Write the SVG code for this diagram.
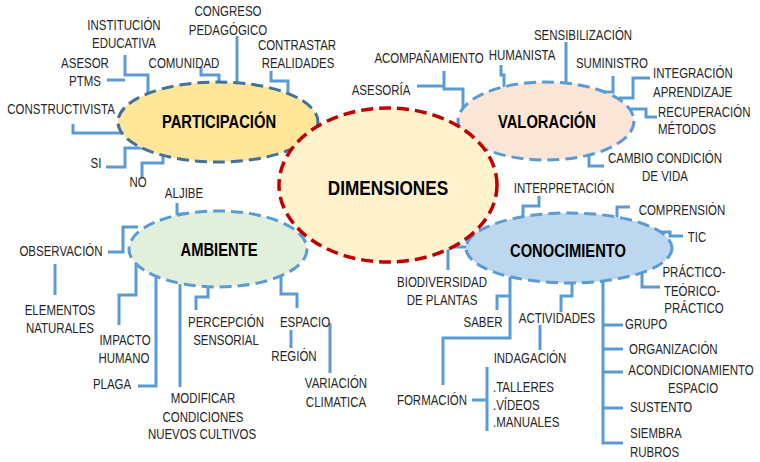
<svg xmlns="http://www.w3.org/2000/svg" width="760" height="462" viewBox="0 0 760 462">
<style>
.t{font-family:"Liberation Sans",Arial,sans-serif;font-size:14px;fill:#262626;transform-box:fill-box;transform-origin:left center;transform:scaleX(0.82)}
.m{text-anchor:middle;transform-origin:center}
.b{font-family:"Liberation Sans",Arial,sans-serif;font-weight:bold;font-size:18px;fill:#000;text-anchor:middle;transform-box:fill-box;transform-origin:center;transform:scaleX(0.82)}
.ln{fill:none;stroke:#5B9BD5;stroke-width:3;stroke-linejoin:miter}
.e{stroke-width:3;stroke-dasharray:12 6}
</style>
<rect width="760" height="462" fill="#fff"/>
<g id="connectors">
<path class="ln" d="M125,55 V75 H148 V93"/>
<path class="ln" d="M107,80 H125"/>
<path class="ln" d="M73,124 V133 H123"/>
<path class="ln" d="M106,167 H125 V148 H142"/>
<path class="ln" d="M142,177 V163 H163 V154"/>
<path class="ln" d="M201,67 V75 H219 V83"/>
<path class="ln" d="M237,36 V83"/>
<path class="ln" d="M271,71 V81 H288 V94"/>
<path class="ln" d="M444,71 V89 H463 V108"/>
<path class="ln" d="M417,86 H444"/>
<path class="ln" d="M501,65 V75 H504 V87"/>
<path class="ln" d="M566,42 V83"/>
<path class="ln" d="M613,76 V92 H602"/>
<path class="ln" d="M650,78 H633 V98 H619"/>
<path class="ln" d="M657,117 H646 V109 H630"/>
<path class="ln" d="M604,166 H589 V155"/>
<path class="ln" d="M177,203 V214 H188"/>
<path class="ln" d="M108,252 H123 V227 H138"/>
<path class="ln" d="M55,264 V295"/>
<path class="ln" d="M136,265 V295 H119 V325"/>
<path class="ln" d="M138,386 H156 V277"/>
<path class="ln" d="M180,387 V284"/>
<path class="ln" d="M208,285 V297 H196 V310"/>
<path class="ln" d="M281,276 V294 H297 V308"/>
<path class="ln" d="M291,330 V348"/>
<path class="ln" d="M330,323 V373"/>
<path class="ln" d="M539,196 V206 H523 V217"/>
<path class="ln" d="M630,207 H617 V219"/>
<path class="ln" d="M683,236 H670 V232 H660"/>
<path class="ln" d="M660,287 H642 V273"/>
<path class="ln" d="M448,270 V247 H467"/>
<path class="ln" d="M497,310 V296 H510"/>
<path class="ln" d="M510,277 V338 H443 V385"/>
<path class="ln" d="M572,283 V296 H561 V312"/>
<path class="ln" d="M540,325 V350"/>
<path class="ln" d="M472,400 H487 M487,367 V431"/>
<path class="ln" d="M603,281 V443 H623 M603,325 H623 M603,349 H623 M603,372 H623 M603,408 H623"/>
</g>
<g id="participacion">
<ellipse class="e" cx="218" cy="122" rx="100" ry="40" fill="#FFE699" stroke="#41719C"/>
<text class="b" x="219" y="128">PARTICIPACIÓN</text>
</g>
<g id="valoracion">
<ellipse class="e" cx="546" cy="121" rx="88" ry="39" fill="#FBE5D6" stroke="#5B9BD5"/>
<text class="b" x="547" y="128">VALORACIÓN</text>
</g>
<g id="ambiente">
<ellipse class="e" cx="218" cy="249" rx="89" ry="38" fill="#E2EFDA" stroke="#5B9BD5"/>
<text class="b" x="219" y="256">AMBIENTE</text>
</g>
<g id="conocimiento">
<ellipse class="e" cx="569" cy="248" rx="103" ry="35" fill="#BDD7EE" stroke="#5B9BD5"/>
<text class="b" x="568" y="257">CONOCIMIENTO</text>
</g>
<g id="dimensiones">
<ellipse cx="388" cy="185" rx="109" ry="77" fill="#FFF2CC" stroke="#C00000" stroke-width="3.5" stroke-dasharray="12 6"/>
<text class="b" x="388" y="195" style="font-size:21px">DIMENSIONES</text>
</g>
<g id="labels-participacion">
<text class="t m" x="124" y="30">INSTITUCIÓN</text>
<text class="t m" x="124" y="48">EDUCATIVA</text>
<text class="t m" x="85" y="68">ASESOR</text>
<text class="t m" x="85" y="86">PTMS</text>
<text class="t m" x="184" y="68">COMUNIDAD</text>
<text class="t m" x="228" y="16">CONGRESO</text>
<text class="t m" x="228" y="35">PEDAGÓGICO</text>
<text class="t m" x="297" y="50">CONTRASTAR</text>
<text class="t m" x="298" y="68">REALIDADES</text>
<text class="t m" x="61" y="114">CONSTRUCTIVISTA</text>
<text class="t m" x="96" y="168">SI</text>
<text class="t m" x="138" y="187">NO</text>
</g>
<g id="labels-valoracion">
<text class="t m" x="429" y="63">ACOMPAÑAMIENTO</text>
<text class="t m" x="522" y="60">HUMANISTA</text>
<text class="t m" x="583" y="40">SENSIBILIZACIÓN</text>
<text class="t m" x="612" y="68">SUMINISTRO</text>
<text class="t" x="653" y="78">INTEGRACIÓN</text>
<text class="t" x="653" y="97">APRENDIZAJE</text>
<text class="t" x="658" y="117">RECUPERACIÓN</text>
<text class="t" x="658" y="134">MÉTODOS</text>
<text class="t m" x="381" y="95">ASESORÍA</text>
<text class="t m" x="665" y="163">CAMBIO CONDICIÓN</text>
<text class="t m" x="665" y="181">DE VIDA</text>
</g>
<g id="labels-ambiente">
<text class="t m" x="184" y="198">ALJIBE</text>
<text class="t m" x="61" y="256">OBSERVACIÓN</text>
<text class="t m" x="60" y="315">ELEMENTOS</text>
<text class="t m" x="60" y="333">NATURALES</text>
<text class="t m" x="125" y="345">IMPACTO</text>
<text class="t m" x="124" y="363">HUMANO</text>
<text class="t m" x="112" y="389">PLAGA</text>
<text class="t m" x="203" y="403">MODIFICAR</text>
<text class="t m" x="203" y="422">CONDICIONES</text>
<text class="t m" x="202" y="439">NUEVOS CULTIVOS</text>
<text class="t m" x="226" y="327">PERCEPCIÓN</text>
<text class="t m" x="226" y="345">SENSORIAL</text>
<text class="t m" x="305" y="327">ESPACIO</text>
<text class="t m" x="294" y="361">REGIÓN</text>
<text class="t m" x="336" y="388">VARIACIÓN</text>
<text class="t m" x="336" y="407">CLIMATICA</text>
</g>
<g id="labels-conocimiento">
<text class="t m" x="564" y="193">INTERPRETACIÓN</text>
<text class="t m" x="682" y="215">COMPRENSIÓN</text>
<text class="t m" x="697" y="242">TIC</text>
<text class="t m" x="694" y="277">PRÁCTICO-</text>
<text class="t m" x="692" y="296">TEÓRICO-</text>
<text class="t m" x="694" y="313">PRÁCTICO</text>
<text class="t m" x="442" y="287">BIODIVERSIDAD</text>
<text class="t m" x="442" y="305">DE PLANTAS</text>
<text class="t m" x="483" y="327">SABER</text>
<text class="t m" x="557" y="323">ACTIVIDADES</text>
<text class="t m" x="530" y="363">INDAGACIÓN</text>
<text class="t m" x="432" y="405">FORMACIÓN</text>
<text class="t" x="493" y="392">.TALLERES</text>
<text class="t" x="493" y="410">.VÍDEOS</text>
<text class="t" x="493" y="427">.MANUALES</text>
<text class="t" x="625" y="329">GRUPO</text>
<text class="t" x="629" y="354">ORGANIZACIÓN</text>
<text class="t m" x="691" y="375">ACONDICIONAMIENTO</text>
<text class="t m" x="693" y="393">ESPACIO</text>
<text class="t" x="630" y="412">SUSTENTO</text>
<text class="t" x="630" y="438">SIEMBRA</text>
<text class="t" x="630" y="457">RUBROS</text>
</g>
</svg>
